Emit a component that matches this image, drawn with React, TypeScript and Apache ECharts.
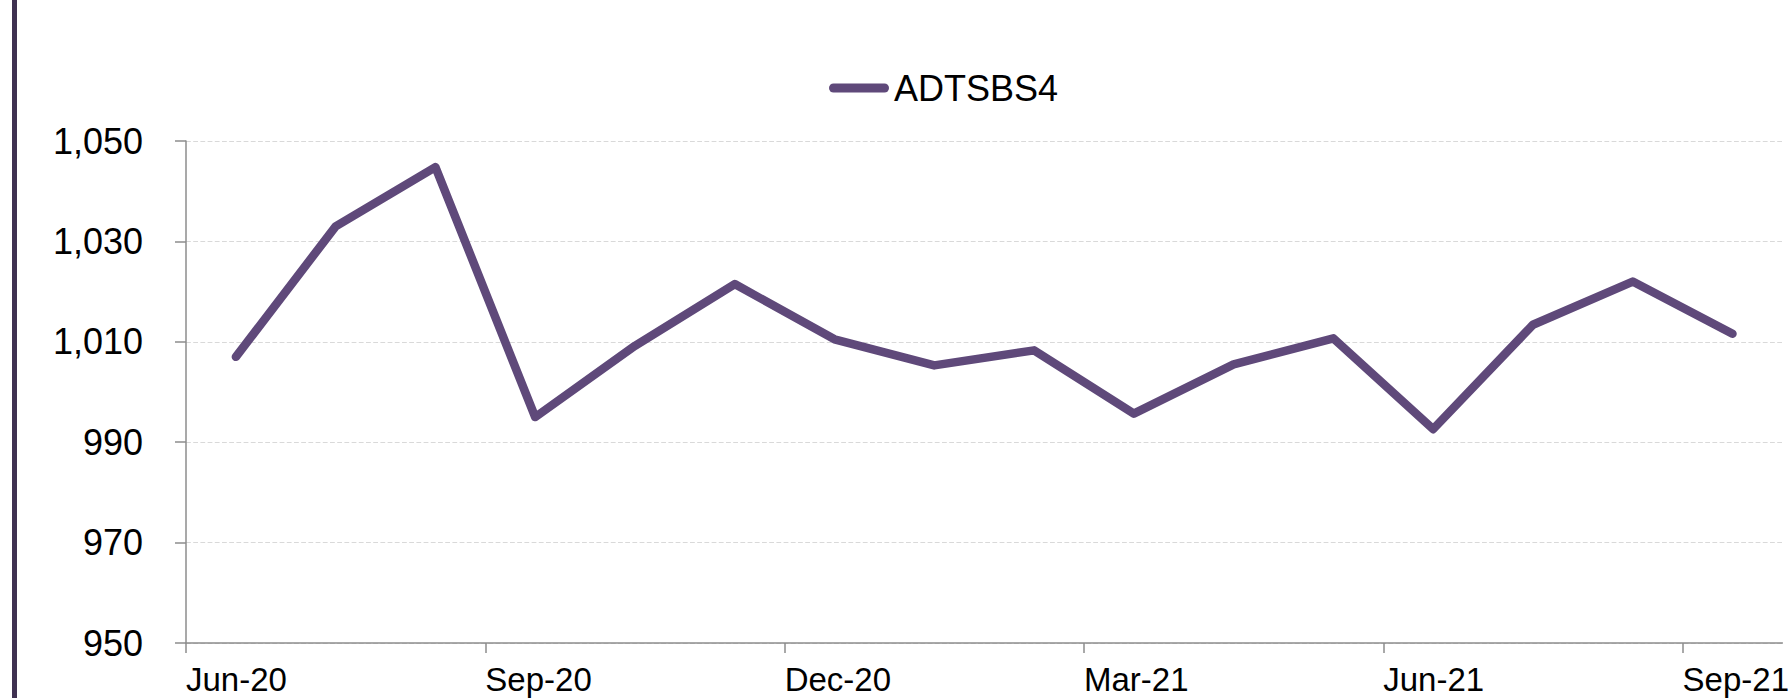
import React, { useEffect, useRef } from "react";
import * as echarts from "echarts";

const months = [
  "Jun-20", "Jul-20", "Aug-20", "Sep-20", "Oct-20", "Nov-20", "Dec-20", "Jan-21",
  "Feb-21", "Mar-21", "Apr-21", "May-21", "Jun-21", "Jul-21", "Aug-21", "Sep-21",
];
const adtsbs4 = [
  1007.0, 1033.0, 1044.8, 995.0, 1009.2, 1021.5, 1010.5, 1005.3,
  1008.3, 995.7, 1005.5, 1010.7, 992.6, 1013.4, 1022.0, 1011.6,
];
const tickLabels = ["Jun-20", "Sep-20", "Dec-20", "Mar-21", "Jun-21", "Sep-21"];
const tickPositions = [0, 3, 6, 9, 12, 15];
const seriesName = "ADTSBS4";

const FONT = "'Liberation Sans', Arial, sans-serif";

export default function App() {
  const ref = useRef<HTMLDivElement>(null);
  useEffect(() => {
    if (!ref.current) return;
    const chart = echarts.init(ref.current, undefined, { renderer: "svg" });
    chart.setOption({
      animation: false,
      backgroundColor: "#ffffff",
      textStyle: { fontFamily: FONT },
      grid: { left: 186, right: 1, top: 141, bottom: 55, containLabel: false },
      legend: {
        left: 829,
        top: 70,
        padding: 0,
        itemWidth: 60,
        itemHeight: 9,
        icon: "path://M4.5,0 H55.5 A4.5,4.5 0 0 1 55.5,9 H4.5 A4.5,4.5 0 0 1 4.5,0 Z",
        textStyle: { fontSize: 36, color: "#000", fontFamily: FONT },
        data: [seriesName],
      },
      xAxis: {
        type: "value",
        min: 0,
        max: months.length,
        axisLine: { show: true, lineStyle: { color: "#8c8c8c", width: 1.5 } },
        axisTick: {
          show: true,
          length: 10,
          customValues: tickPositions,
          lineStyle: { color: "#8c8c8c", width: 1.5 },
        },
        axisLabel: {
          customValues: tickPositions,
          formatter: (v: number) => tickLabels[Math.round(v / 3)] ?? "",
          align: "left",
          margin: 20,
          fontSize: 33,
          lineHeight: 33,
          color: "#000",
          fontFamily: FONT,
        },
        splitLine: { show: false },
      },
      yAxis: {
        type: "value",
        min: 950,
        max: 1050,
        interval: 20,
        axisLine: { show: true, lineStyle: { color: "#8c8c8c", width: 1.5 } },
        axisTick: { show: true, length: 11, lineStyle: { color: "#8c8c8c", width: 1.5 } },
        axisLabel: {
          formatter: (v: number) => v.toLocaleString("en-US"),
          margin: 43,
          fontSize: 36,
          color: "#000",
          fontFamily: FONT,
        },
        splitLine: { show: true, lineStyle: { color: "#d9d9d9", type: "dashed", width: 1.2 } },
      },
      series: [
        {
          name: seriesName,
          type: "line",
          data: adtsbs4.map((v, i) => [i + 0.5, v]),
          symbol: "none",
          itemStyle: { color: "#5f497a" },
          lineStyle: { color: "#5f497a", width: 8.5, cap: "round", join: "round" },
        },
      ],
      graphic: [
        {
          type: "rect",
          shape: { x: 12, y: 0, width: 5, height: 698 },
          style: { fill: "#3f3151" },
          silent: true,
        },
      ],
    });
    return () => chart.dispose();
  }, []);
  return (
    <div
      ref={ref}
      style={{ position: "absolute", left: 0, top: 0, width: 1792, height: 698 }}
    />
  );
}
